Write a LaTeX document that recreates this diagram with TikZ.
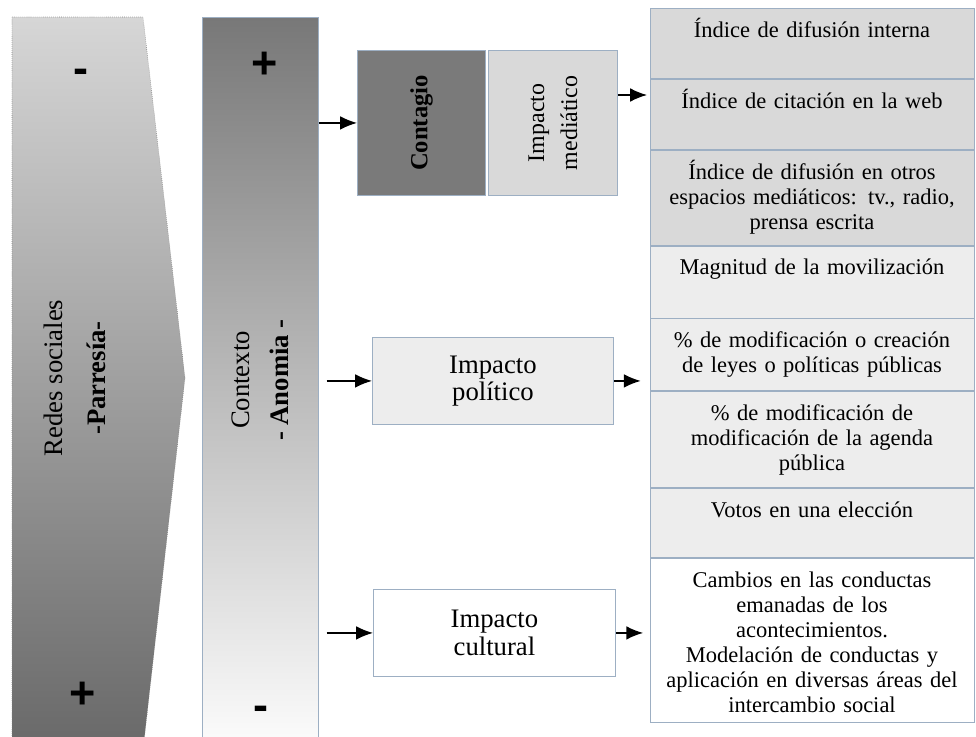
\documentclass[tikz,border=0pt]{standalone}
\usepackage{fontspec}
\setmainfont{Liberation Serif}
\newfontfamily\signfont{Liberation Sans}
\usetikzlibrary{arrows.meta,calc,positioning}

\definecolor{redtop}{gray}{0.84}
\definecolor{redbot}{gray}{0.41}
\definecolor{ctxtop}{gray}{0.47}
\definecolor{ctxmid}{gray}{0.84}
\definecolor{ctxbot}{gray}{0.99}
\definecolor{frame}{HTML}{9DAFC3}
\definecolor{darkbox}{gray}{0.48}
\definecolor{lightbox}{gray}{0.85}
\definecolor{palebox}{gray}{0.93}

\begin{document}
\begin{tikzpicture}
[x=0.025cm, y=-0.025cm, font=\fontsize{16}{17.8}\selectfont]
\tikzstyle{box}=[draw=frame, line width=0.6pt, inner sep=0pt, align=center]
\tikzstyle{row}=[box, minimum width=8.1cm, anchor=north]
\tikzstyle{rowtext}=[anchor=north, text width=7.9cm, align=center, inner sep=0pt, yshift=-0.2cm, execute at begin node=\rule{0pt}{15pt}]
\tikzstyle{sign}=[font=\signfont\bfseries\fontsize{32}{32}\selectfont, inner sep=0pt]
\tikzstyle{side}=[rotate=90, align=center, inner sep=0pt]
\tikzstyle{flow}=[line width=1pt, -{Latex[length=4.2mm,width=3.4mm]}]

\useasboundingbox (0,0) rectangle (976,737);

% redes sociales / parresia
\draw[densely dotted, draw=gray, top color=redtop, bottom color=redbot]
  (12,17) -- (143,17) -- (185,378) -- (143,750) -- (12,750) -- cycle;
\node[side, font=\fontsize{19}{31}\selectfont] (redes) at (75,378) {Redes sociales\\\textbf{-Parresía-}};
\node[sign] (redes_minus) at (81,76) {-};
\node[sign] (redes_plus) at (83,695) {+};

% contexto / anomia
\node[draw=frame, top color=ctxtop, middle color=ctxmid, bottom color=ctxbot,
  minimum width=2.9cm, minimum height=18.3cm, anchor=north west, inner sep=0pt] (ctx) at (202,17) {};
\node[side, font=\fontsize{19}{28}\selectfont] (contexto) at (260,380) {Contexto\\\textbf{- Anomia -}};
\node[sign] (ctx_plus) at (265,65) {+};
\node[sign] (ctx_minus) at (261,713) {-};

% impactos
\node[box, fill=darkbox, minimum width=3.2cm, minimum height=3.625cm, anchor=north west] (contagio) at (357,50)
  {\rotatebox{90}{\fontsize{17.5}{20}\selectfont\textbf{Contagio}}};
\node[box, fill=lightbox, minimum width=3.225cm, minimum height=3.625cm, right=0.05cm of contagio] (mediatico)
  {\rotatebox{90}{\parbox{3cm}{\centering\fontsize{17}{23.5}\selectfont Impacto\\mediático}}};
\node[box, fill=palebox, minimum width=6.025cm, minimum height=2.175cm, anchor=north west,
  font=\fontsize{19}{19.5}\selectfont] (politico) at (372,337) {Impacto\\político};
\node[box, fill=white, minimum width=6.05cm, minimum height=2.175cm, anchor=north west,
  font=\fontsize{19}{19.5}\selectfont] (cultural) at (373,589) {Impacto\\cultural};

% indicadores
\node[row, fill=lightbox, minimum height=1.75cm] (r1) at (812,8) {};
\node[row, fill=lightbox, minimum height=1.75cm, below=0cm of r1] (r2) {};
\node[row, fill=lightbox, minimum height=2.375cm, below=0cm of r2] (r3) {};
\node[row, fill=palebox, minimum height=1.8cm, below=0cm of r3] (r4) {};
\node[row, fill=palebox, minimum height=1.8cm, below=0cm of r4] (r5) {};
\node[row, fill=palebox, minimum height=2.4cm, below=0cm of r5] (r6) {};
\node[row, fill=palebox, minimum height=1.725cm, below=0cm of r6] (r7) {};
\node[row, fill=white, minimum height=4.1cm, below=0cm of r7] (r8) {};

\node[rowtext] (t1) at (r1.north) {Índice de difusión interna};
\node[rowtext] (t2) at (r2.north) {Índice de citación en la web};
\node[rowtext] (t3) at (r3.north) {Índice de difusión en otros\\espacios mediáticos: tv., radio,\\prensa escrita};
\node[rowtext] (t4) at (r4.north) {Magnitud de la movilización};
\node[rowtext] (t5) at (r5.north) {\% de modificación o creación\\de leyes o políticas públicas};
\node[rowtext] (t6) at (r6.north) {\% de modificación de\\modificación de la agenda\\pública};
\node[rowtext] (t7) at (r7.north) {Votos en una elección};
\node[rowtext] (t8) at (r8.north) {Cambios en las conductas\\emanadas de los\\acontecimientos.\\Modelación de conductas y\\aplicación en diversas áreas del\\intercambio social};

\coordinate (m_out) at (647,95);

\path[flow]
  (ctx.east |- contagio.west) edge (contagio.west)
  (ctx.east |- politico.west) edge [shorten <=2mm] (politico.west)
  (ctx.east |- cultural.west) edge [shorten <=2mm] (cultural.west)
  (mediatico.east |- m_out) edge (m_out)
  (politico.east) edge [shorten >=2.2mm] (politico.east -| r5.west)
  (cultural.east) edge [shorten >=1.6mm] (cultural.east -| r8.west)
  ;
\end{tikzpicture}
\end{document}
